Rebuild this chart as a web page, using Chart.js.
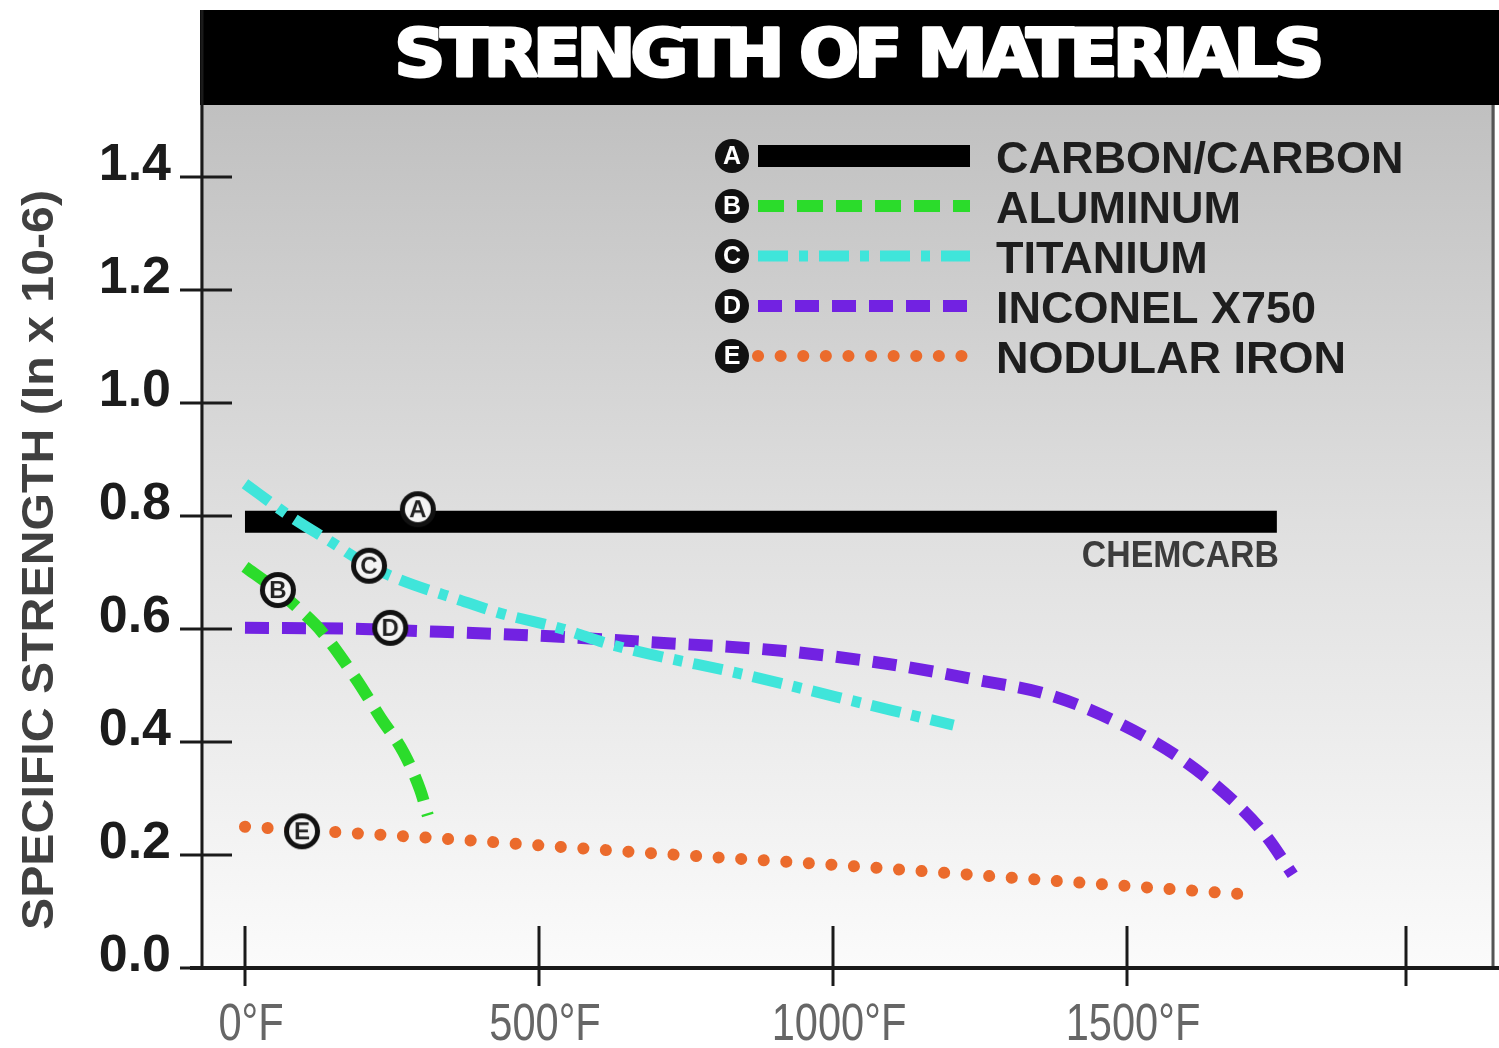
<!DOCTYPE html>
<html>
<head>
<meta charset="utf-8">
<script src="https://cdn.jsdelivr.net/npm/chart.js@4/dist/chart.umd.min.js"></script>
<style>
  html, body { margin: 0; padding: 0; background: #fff; }
  #wrap { width: 1499px; height: 1048px; }
</style>
</head>
<body>
<div id="wrap"><canvas id="c" width="1499" height="1048"></canvas></div>
<script>
// ---- text ----
const chartTitle = 'STRENGTH OF MATERIALS';
const yAxisTitle = 'SPECIFIC STRENGTH (In x 10-6)';
const noteText = 'CHEMCARB';
const seriesNames = ['CARBON/CARBON', 'ALUMINUM', 'TITANIUM', 'INCONEL X750', 'NODULAR IRON'];
const seriesBadges = ['A', 'B', 'C', 'D', 'E'];

// ---- series (temperature in °F, specific strength) ----
const carbonTemp = [0, 1755];
const carbonStrength = [0.79, 0.79];

const aluminumTemp = [0, 50, 90, 130, 190, 230, 270, 298, 311];
const aluminumStrength = [0.710, 0.672, 0.637, 0.596, 0.510, 0.444, 0.381, 0.315, 0.270];

const titaniumTemp = [0, 76, 145, 211, 264, 366, 434, 540, 624, 859, 1005, 1100, 1205];
const titaniumStrength = [0.857, 0.800, 0.755, 0.712, 0.687, 0.651, 0.628, 0.600, 0.572, 0.517, 0.480, 0.456, 0.430];

const inconelTemp = [0, 200, 332, 500, 684, 917, 1094, 1245, 1369, 1483, 1595, 1692, 1738, 1782];
const inconelStrength = [0.602, 0.600, 0.595, 0.588, 0.577, 0.561, 0.538, 0.510, 0.483, 0.435, 0.368, 0.285, 0.232, 0.165];

const ironTemp = [0, 320, 665, 1009, 1354, 1705];
const ironStrength = [0.250, 0.230, 0.205, 0.182, 0.156, 0.130];

// lettered callouts on the curves
const markerTemp = [294, 56, 211, 247, 97];
const markerStrength = [0.812, 0.669, 0.712, 0.602, 0.242];

// ---- axes ----
const yTickValues = [0, 0.2, 0.4, 0.6, 0.8, 1.0, 1.2, 1.4];
const yTickLabels = ['0.0', '0.2', '0.4', '0.6', '0.8', '1.0', '1.2', '1.4'];
const xTickValues = [0, 500, 1000, 1500, 1975];
const xTickLabels = ['0°F', '500°F', '1000°F', '1500°F', ''];

const pts = (xs, ys) => xs.map((x, i) => ({ x: x, y: ys[i] }));

// solid badge (legend) or ringed badge (on the curves)
function badgeImage(letter, r, ringed) {
  const c = document.createElement('canvas');
  const s = 2 * r + 4;
  c.width = s; c.height = s;
  const g = c.getContext('2d');
  g.beginPath();
  g.arc(s / 2, s / 2, r, 0, Math.PI * 2);
  g.fillStyle = '#111';
  g.fill();
  if (ringed) {
    g.beginPath();
    g.arc(s / 2, s / 2, r - 5, 0, Math.PI * 2);
    g.fillStyle = '#f4f4f4';
    g.fill();
  }
  g.fillStyle = ringed ? '#222' : '#fff';
  g.font = 'bold ' + Math.round(r * (ringed ? 1.35 : 1.45)) + 'px "Liberation Sans", Arial, sans-serif';
  g.textAlign = 'center';
  g.textBaseline = 'middle';
  g.fillText(letter, s / 2, s / 2 + 1);
  return c;
}

function fitText(ctx, text, x, y, font, color, width, align) {
  ctx.save();
  ctx.font = font;
  ctx.fillStyle = color;
  ctx.textBaseline = 'alphabetic';
  const w = ctx.measureText(text).width;
  const sx = width ? width / w : 1;
  const drawW = w * sx;
  let left = x;
  if (align === 'center') left = x - drawW / 2;
  if (align === 'right') left = x - drawW;
  ctx.translate(left, y);
  ctx.scale(sx, 1);
  ctx.textAlign = 'left';
  ctx.fillText(text, 0, 0);
  ctx.restore();
}

// background, title band, frame, ticks and legend
const framePlugin = {
  id: 'frame',
  beforeDraw(chart) {
    const { ctx, chartArea: a } = chart;
    ctx.save();
    ctx.fillStyle = '#fff';
    ctx.fillRect(0, 0, chart.width, chart.height);

    const grad = ctx.createLinearGradient(0, a.top, 0, a.bottom);
    grad.addColorStop(0, '#c0c0c0');
    grad.addColorStop(0.5, '#e0e0e0');
    grad.addColorStop(1, '#fbfbfb');
    ctx.fillStyle = grad;
    ctx.fillRect(a.left, a.top, a.right - a.left, a.bottom - a.top);

    // title band
    ctx.fillStyle = '#000';
    ctx.fillRect(a.left, 10, chart.width - a.left, a.top - 10);
    ctx.save();
    ctx.font = 'bold 66px "DejaVu Sans Condensed", "DejaVu Sans", sans-serif';
    try { ctx.letterSpacing = '-4px'; } catch (e) {}
    const tw = ctx.measureText(chartTitle).width;
    const sx = 925 / tw;
    ctx.translate(857 - 925 / 2, 76);
    ctx.scale(sx, 1);
    ctx.fillStyle = '#fff';
    ctx.strokeStyle = '#fff';
    ctx.lineWidth = 3;
    ctx.lineJoin = 'round';
    ctx.fillText(chartTitle, 0, 0);
    ctx.strokeText(chartTitle, 0, 0);
    ctx.restore();

    const xs = chart.scales.x, ys = chart.scales.y;

    // right edge
    ctx.strokeStyle = '#555';
    ctx.lineWidth = 3;
    ctx.beginPath();
    ctx.moveTo(a.right - 2, a.top);
    ctx.lineTo(a.right - 2, a.bottom);
    ctx.stroke();

    // left axis
    ctx.strokeStyle = '#1a1a1a';
    ctx.lineWidth = 3;
    ctx.beginPath();
    ctx.moveTo(a.left + 2, 10);
    ctx.lineTo(a.left + 2, a.bottom);
    ctx.stroke();

    // bottom axis
    ctx.lineWidth = 4;
    ctx.beginPath();
    ctx.moveTo(a.left - 10, a.bottom);
    ctx.lineTo(chart.width, a.bottom);
    ctx.stroke();

    // y ticks and labels
    ctx.lineWidth = 3;
    yTickValues.forEach((v, i) => {
      const py = Math.round(ys.getPixelForValue(v));
      ctx.beginPath();
      ctx.moveTo(a.left - 20, py);
      ctx.lineTo(a.left + 32, py);
      ctx.stroke();
      fitText(ctx, yTickLabels[i], 171, py + 3, 'bold 52px "Liberation Sans", Arial, sans-serif', '#1c1c1c', 0, 'right');
    });

    // x ticks and labels
    ctx.lineWidth = 3;
    xTickValues.forEach((v, i) => {
      const px = Math.round(xs.getPixelForValue(v));
      ctx.beginPath();
      ctx.moveTo(px, a.bottom - 42);
      ctx.lineTo(px, a.bottom + 18);
      ctx.stroke();
      if (xTickLabels[i]) {
        ctx.save();
        ctx.font = '52px "Liberation Sans", Arial, sans-serif';
        const w = ctx.measureText(xTickLabels[i]).width * 0.8;
        ctx.restore();
        fitText(ctx, xTickLabels[i], px + 6, 1040, '52px "Liberation Sans", Arial, sans-serif', '#666', w, 'center');
      }
    });

    // y axis title
    ctx.save();
    ctx.translate(53, 560);
    ctx.rotate(-Math.PI / 2);
    ctx.font = 'bold 45px "Liberation Sans", Arial, sans-serif';
    const yw = ctx.measureText(yAxisTitle).width;
    ctx.scale(740 / yw, 1);
    ctx.fillStyle = '#404040';
    ctx.textAlign = 'center';
    ctx.textBaseline = 'alphabetic';
    ctx.fillText(yAxisTitle, 0, 0);
    ctx.restore();

    ctx.restore();
  },
  afterDraw(chart) {
    const { ctx } = chart;
    const xs = chart.scales.x, ys = chart.scales.y;

    // note under the end of the carbon/carbon bar
    const nx = xs.getPixelForValue(carbonTemp[carbonTemp.length - 1]);
    const ny = ys.getPixelForValue(carbonStrength[carbonStrength.length - 1]);
    fitText(ctx, noteText, nx + 2, ny + 45, 'bold 36px "Liberation Sans", Arial, sans-serif', '#3c3c3c', 197, 'right');

    // legend
    const rowTop = 156, rowGap = 50;
    chart.data.datasets.forEach((ds, i) => {
      if (!ds.badge) return;
      const y = rowTop + i * rowGap;
      ctx.save();
      ctx.strokeStyle = ds.borderColor;
      ctx.lineWidth = ds.borderWidth;
      ctx.lineCap = ds.borderCapStyle || 'butt';
      ctx.setLineDash(ds.borderDash || []);
      ctx.beginPath();
      ctx.moveTo(758, y);
      ctx.lineTo(970, y);
      ctx.stroke();
      ctx.restore();
      const img = badgeImage(ds.badge, 17, false);
      ctx.drawImage(img, 732 - img.width / 2, y - img.height / 2);
      fitText(ctx, ds.label, 996, y + 17, 'bold 45px "Liberation Sans", Arial, sans-serif', '#1e1e1e', 0, 'left');
    });
  }
};

const chart = new Chart(document.getElementById('c'), {
  type: 'line',
  data: {
    datasets: [
      {
        label: seriesNames[0], badge: seriesBadges[0],
        data: pts(carbonTemp, carbonStrength),
        borderColor: '#000', borderWidth: 22, borderCapStyle: 'butt', borderDash: [],
        pointRadius: 0, tension: 0, order: 10
      },
      {
        label: seriesNames[1], badge: seriesBadges[1],
        data: pts(aluminumTemp, aluminumStrength),
        borderColor: '#2bdc2b', borderWidth: 12, borderCapStyle: 'butt', borderDash: [26, 13],
        pointRadius: 0, cubicInterpolationMode: 'monotone', order: 7
      },
      {
        label: seriesNames[2], badge: seriesBadges[2],
        data: pts(titaniumTemp, titaniumStrength),
        borderColor: '#3fe5da', borderWidth: 11, borderCapStyle: 'butt', borderDash: [30, 11, 9, 11],
        pointRadius: 0, cubicInterpolationMode: 'monotone', order: 6
      },
      {
        label: seriesNames[3], badge: seriesBadges[3],
        data: pts(inconelTemp, inconelStrength),
        borderColor: '#7222e2', borderWidth: 12, borderCapStyle: 'butt', borderDash: [24, 13],
        pointRadius: 0, cubicInterpolationMode: 'monotone', order: 8
      },
      {
        label: seriesNames[4], badge: seriesBadges[4],
        data: pts(ironTemp, ironStrength),
        borderColor: '#eb6b2c', borderWidth: 12, borderCapStyle: 'round', borderDash: [0.1, 22.5],
        pointRadius: 0, cubicInterpolationMode: 'monotone', order: 9
      },
      {
        label: 'callouts',
        data: pts(markerTemp, markerStrength),
        showLine: false,
        pointStyle: seriesBadges.map(l => badgeImage(l, 18, true)),
        pointRadius: 18,
        order: 0
      }
    ]
  },
  options: {
    responsive: false,
    animation: false,
    events: [],
    layout: { autoPadding: false, padding: { left: 200, right: 4, top: 105, bottom: 80 } },
    scales: {
      x: { type: 'linear', min: -76.5, max: 2126, display: false },
      y: { type: 'linear', min: 0, max: 1.5274, display: false }
    },
    plugins: {
      legend: { display: false },
      tooltip: { enabled: false },
      title: { display: false }
    }
  },
  plugins: [framePlugin]
});
</script>
</body>
</html>
